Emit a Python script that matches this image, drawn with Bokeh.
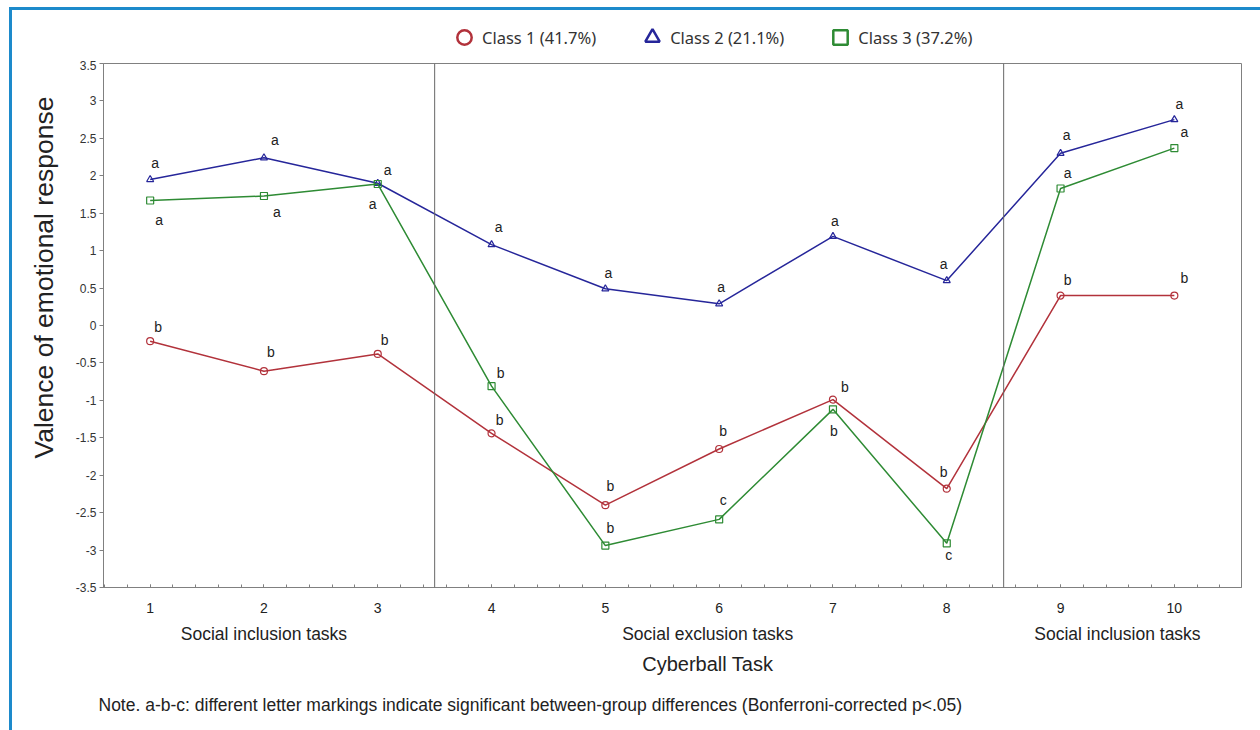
from bokeh.plotting import figure
from bokeh.layouts import column
from bokeh.models import (Range1d, FixedTicker, LinearAxis, Span, Legend, LegendItem,
                          CustomJSTickFormatter, Title, ColumnDataSource)
from bokeh.core.properties import value
from bokeh.embed import file_html
from bokeh.resources import INLINE

# ---------------- data ----------------
tasks = [1, 2, 3, 4, 5, 6, 7, 8, 9, 10]
class1 = [-0.21, -0.61, -0.38, -1.44, -2.40, -1.65, -0.99, -2.18, 0.40, 0.40]
class2 = [1.95, 2.24, 1.90, 1.08, 0.49, 0.29, 1.19, 0.60, 2.30, 2.75]
class3 = [1.67, 1.73, 1.89, -0.81, -2.94, -2.59, -1.12, -2.91, 1.83, 2.37]
letters1 = ["b", "b", "b", "b", "b", "b", "b", "b", "b", "b"]
letters2 = ["a", "a", "a", "a", "a", "a", "a", "a", "a", "a"]
letters3 = ["a", "a", "a", "b", "b", "c", "b", "c", "a", "a"]
series_names = ["Class 1 (41.7%)", "Class 2 (21.1%)", "Class 3 (37.2%)"]
y_ticks = [-3.5, -3, -2.5, -2, -1.5, -1, -0.5, 0, 0.5, 1, 1.5, 2, 2.5, 3, 3.5]
phase_labels = ["Social inclusion tasks", "Social exclusion tasks", "Social inclusion tasks"]
phase_label_pos = [2, 5.9, 9.5]
phase_bounds = [3.5, 8.5]
x_title = "Cyberball Task"
x_title_pos = 5.9
y_title = "Valence of emotional response"
y_title_pos = 0.64
note = ("Note. a-b-c: different letter markings indicate significant between-group "
        "differences (Bonferroni-corrected p<.05)")

# ---------------- style ----------------
RED = "#b2323b"
BLUE = "#26269a"
GREEN = "#2e8b34"
AXIS = "#808080"
TXT = "#222222"
FONT = "Liberation Sans"

# label pixel offsets (style only)
off1 = [(8, -14), (7, -19), (7, -14), (8, -13), (5, -19), (4, -18), (12, -13), (-3, -17), (7, -16), (10, -18)]
off2 = [(5, -17), (11, -18), (10, -13), (7, -18), (3, -16), (2, -17), (2, -15), (-3, -17), (6, -18), (5, -16)]
off3 = [(9, 20), (13, 16), (-5, 20), (9, -13), (5, -18), (4, -19), (1, 22), (2, 12), (7, -16), (10, -16)]

# ---------------- legend strip ----------------
lf = figure(width=1248, height=50, x_range=Range1d(0, 1), y_range=Range1d(0, 1),
            x_axis_type=None, y_axis_type=None, output_backend="svg", toolbar_location=None,
            min_border_left=0, min_border_right=0, min_border_top=0, min_border_bottom=0)
lf.outline_line_color = None
lf.xgrid.visible = False
lf.ygrid.visible = False
lf.background_fill_color = "white"
lf.border_fill_color = "white"

# ---------------- main plot ----------------
p = figure(width=1248, height=670, x_range=Range1d(0.59, 10.59), y_range=Range1d(-3.5, 3.5),
           output_backend="svg", toolbar_location=None,
           min_border_left=91, min_border_right=19, min_border_top=3, min_border_bottom=143)
p.xgrid.visible = False
p.ygrid.visible = False
p.outline_line_color = AXIS
p.outline_line_width = 1
p.background_fill_color = "white"
p.border_fill_color = "white"

# y axis
ya = p.yaxis[0]
ya.ticker = FixedTicker(ticks=y_ticks, minor_ticks=[])
ya.formatter = CustomJSTickFormatter(code="return String(tick)")
ya.axis_line_color = AXIS
ya.major_tick_line_color = AXIS
ya.major_tick_out = 4
ya.major_tick_in = 0
ya.major_label_standoff = 3
ya.major_label_text_font = FONT
ya.major_label_text_font_size = "12px"
ya.major_label_text_color = "#333333"

ylab = LinearAxis(ticker=FixedTicker(ticks=[y_title_pos], minor_ticks=[]),
                  major_label_overrides={y_title_pos: y_title},
                  major_label_orientation="vertical",
                  axis_line_color=None, major_tick_line_color=None, minor_tick_line_color=None,
                  major_label_standoff=7, major_label_text_font=FONT,
                  major_label_text_font_size="26.5px", major_label_text_color=TXT)
p.add_layout(ylab, "left")

# x axis
xa = p.xaxis[0]
minor = [0.6 + 0.2 * i for i in range(51)]
xa.ticker = FixedTicker(ticks=tasks, minor_ticks=minor)
xa.axis_line_color = AXIS
xa.major_tick_line_color = AXIS
xa.minor_tick_line_color = AXIS
xa.major_tick_in = 3
xa.major_tick_out = 0
xa.minor_tick_in = 3
xa.minor_tick_out = 0
xa.major_label_standoff = 15
xa.major_label_text_font = FONT
xa.major_label_text_font_size = "14px"
xa.major_label_text_color = TXT

xphase = LinearAxis(ticker=FixedTicker(ticks=phase_label_pos, minor_ticks=[]),
                    major_label_overrides={pos: lab for pos, lab in zip(phase_label_pos, phase_labels)},
                    axis_line_color=None, major_tick_line_color=None, minor_tick_line_color=None,
                    major_label_standoff=2, major_label_text_font=FONT,
                    major_label_text_font_size="17.5px", major_label_text_color=TXT)
p.add_layout(xphase, "below")

xtitle = LinearAxis(ticker=FixedTicker(ticks=[x_title_pos], minor_ticks=[]),
                    major_label_overrides={x_title_pos: x_title},
                    axis_line_color=None, major_tick_line_color=None, minor_tick_line_color=None,
                    major_label_standoff=0, major_label_text_font=FONT,
                    major_label_text_font_size="20px", major_label_text_color=TXT)
p.add_layout(xtitle, "below")

note_title = Title(text=note, align="left", offset=-5, standoff=31,
                   text_font=FONT, text_font_size="17.5px", text_font_style="normal",
                   text_color=TXT)
p.add_layout(note_title, "below")

# phase boundaries
for b in phase_bounds:
    p.add_layout(Span(location=b, dimension="height", line_color="#666666", line_width=1))

# series
series = [(class1, letters1, off1, RED, "circle"),
          (class2, letters2, off2, BLUE, "triangle"),
          (class3, letters3, off3, GREEN, "square")]
legend_items = []
for (vals, lets, offs, col, mk), name in zip(series, series_names):
    src = ColumnDataSource(dict(x=tasks, y=vals, t=lets,
                                dx=[o[0] for o in offs], dy=[o[1] for o in offs]))
    p.line("x", "y", source=src, line_color=col, line_width=1.5)
    p.scatter("x", "y", source=src, marker=mk, size=7, line_color=col, line_width=1.2,
              fill_color="white", fill_alpha=0.0)
    p.text("x", "y", text="t", source=src, x_offset="dx", y_offset="dy",
           text_align="center", text_baseline="middle", text_font=value(FONT),
           text_font_size="14px", text_color=TXT)
    swatch = lf.scatter(tasks, vals, marker=mk, line_color=col, line_width=2.5,
                        fill_alpha=0.0, visible=False)
    legend_items.append(LegendItem(label=name, renderers=[swatch]))

legend = Legend(items=legend_items, orientation="horizontal", location=(343, 5),
                glyph_width=36, glyph_height=36, label_standoff=0, spacing=38,
                padding=0, margin=0, border_line_color=None, background_fill_alpha=0.0,
                label_text_font="Noto Sans", label_text_font_size="16.5px",
                label_text_color="#333333")
lf.add_layout(legend, "center")

layout = column(lf, p, spacing=0)
layout.styles = {"border-left": "3px solid #1d8acb", "border-top": "3px solid #1d8acb",
                 "margin-left": "9px", "margin-top": "7px"}

open("out.html", "w").write(file_html(layout, INLINE))
